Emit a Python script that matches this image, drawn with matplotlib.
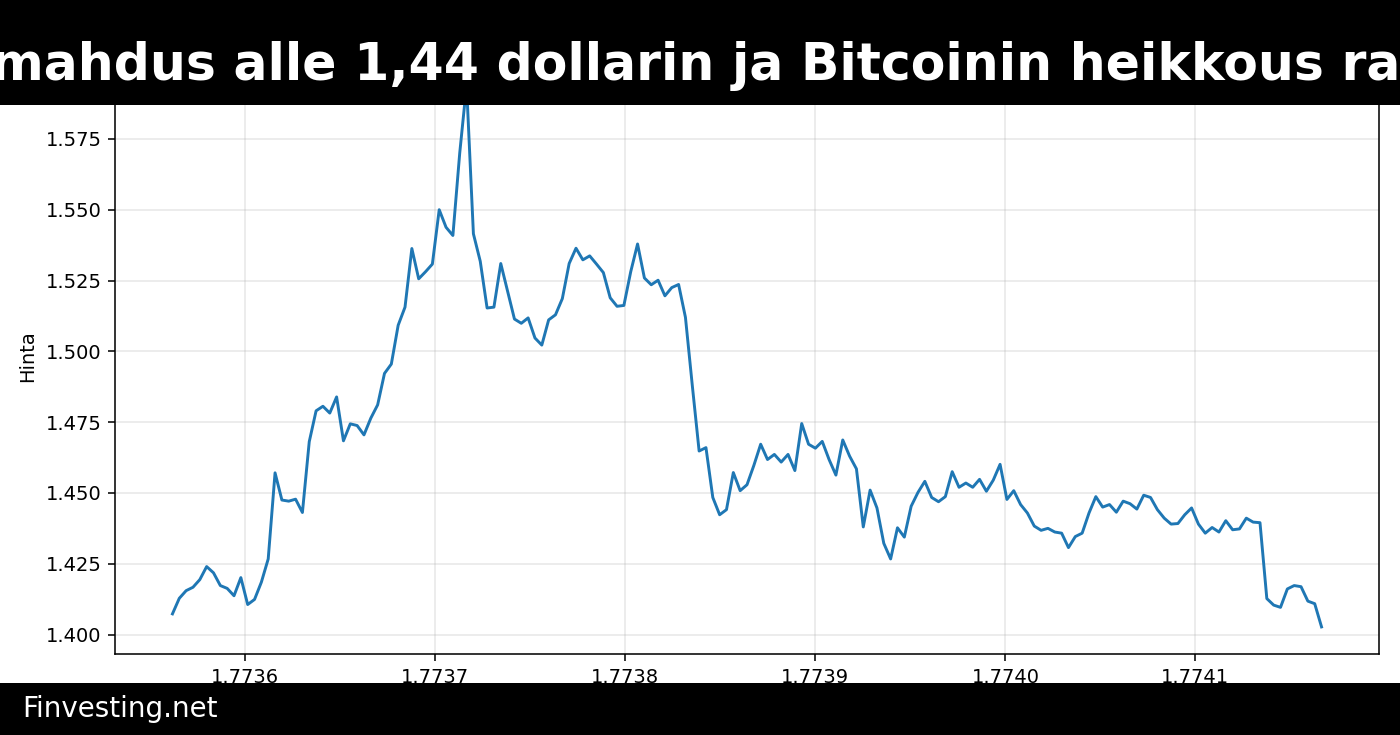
import numpy as np
import matplotlib
matplotlib.use("Agg")
import matplotlib.pyplot as plt
from matplotlib.patches import Rectangle

otsikko = "XRP:n romahdus alle 1,44 dollarin ja Bitcoinin heikkous ravistelee"
lahde = "Finvesting.net"
y_nimi = "Hinta"

# tuntidata, aikaleima sekunteina
alku = 1773561600
askel = 3600

hinta = [
  1.4073, 1.4128, 1.4155, 1.4167, 1.4194, 1.4240, 1.4218, 1.4173, 1.4163, 1.4137,
  1.4201, 1.4106, 1.4124, 1.4185, 1.4267, 1.4571, 1.4475, 1.4471, 1.4478, 1.4431,
  1.4681, 1.4790, 1.4806, 1.4782, 1.4839, 1.4684, 1.4744, 1.4738, 1.4705, 1.4764,
  1.4811, 1.4922, 1.4955, 1.5092, 1.5156, 1.5363, 1.5256, 1.5281, 1.5308, 1.5500,
  1.5438, 1.5409, 1.5700, 1.5940, 1.5415, 1.5318, 1.5153, 1.5156, 1.5310, 1.5212,
  1.5114, 1.5099, 1.5118, 1.5047, 1.5022, 1.5111, 1.5129, 1.5186, 1.5310, 1.5364,
  1.5323, 1.5337, 1.5308, 1.5278, 1.5189, 1.5159, 1.5162, 1.5281, 1.5379, 1.5259,
  1.5235, 1.5251, 1.5196, 1.5225, 1.5236, 1.5120, 1.4880, 1.4648, 1.4660, 1.4484,
  1.4423, 1.4441, 1.4572, 1.4508, 1.4529, 1.4597, 1.4672, 1.4618, 1.4636, 1.4609,
  1.4636, 1.4579, 1.4745, 1.4672, 1.4658, 1.4682, 1.4618, 1.4563, 1.4687, 1.4630,
  1.4585, 1.4380, 1.4510, 1.4447, 1.4322, 1.4267, 1.4377, 1.4344, 1.4453, 1.4502,
  1.4541, 1.4484, 1.4469, 1.4487, 1.4575, 1.4520, 1.4535, 1.4520, 1.4548, 1.4506,
  1.4545, 1.4601, 1.4477, 1.4508, 1.4459, 1.4429, 1.4383, 1.4368, 1.4375, 1.4362,
  1.4358, 1.4307, 1.4346, 1.4358, 1.4429, 1.4487, 1.4450, 1.4459, 1.4432, 1.4471,
  1.4462, 1.4443, 1.4492, 1.4484, 1.4441, 1.4411, 1.4390, 1.4392, 1.4423, 1.4447,
  1.4390, 1.4358, 1.4378, 1.4362, 1.4402, 1.4370, 1.4373, 1.4411, 1.4397, 1.4395,
  1.4127, 1.4104, 1.4096, 1.4161, 1.4173, 1.4169, 1.4118, 1.4109, 1.4027,
]

aika = alku + askel * np.arange(len(hinta))

fig = plt.figure(figsize=(10, 5.25), dpi=140)
ax = fig.add_axes([115 / 1400, 81 / 735, 1264 / 1400, 596 / 735])

ax.plot(aika, hinta, color="#1f77b4", linewidth=1.5)
ax.grid(True, alpha=0.3)
ax.set_ylabel(y_nimi)

# mustat palkit ylä- ja alareunaan
fig.add_artist(Rectangle((0, 1 - 105 / 735), 1, 105 / 735, transform=fig.transFigure,
                         facecolor="black", edgecolor="none", zorder=10))
fig.add_artist(Rectangle((0, 0), 1, 52 / 735, transform=fig.transFigure,
                         facecolor="black", edgecolor="none", zorder=10))

fig.text(0.4885, 1 - 80 / 735, otsikko, color="white", fontsize=26, fontweight="bold",
         ha="center", va="baseline", zorder=11)
fig.text(22 / 1400, 18 / 735, lahde, color="white", fontsize=14.3,
         ha="left", va="baseline", zorder=11)

fig.savefig("out.png", dpi=140)
